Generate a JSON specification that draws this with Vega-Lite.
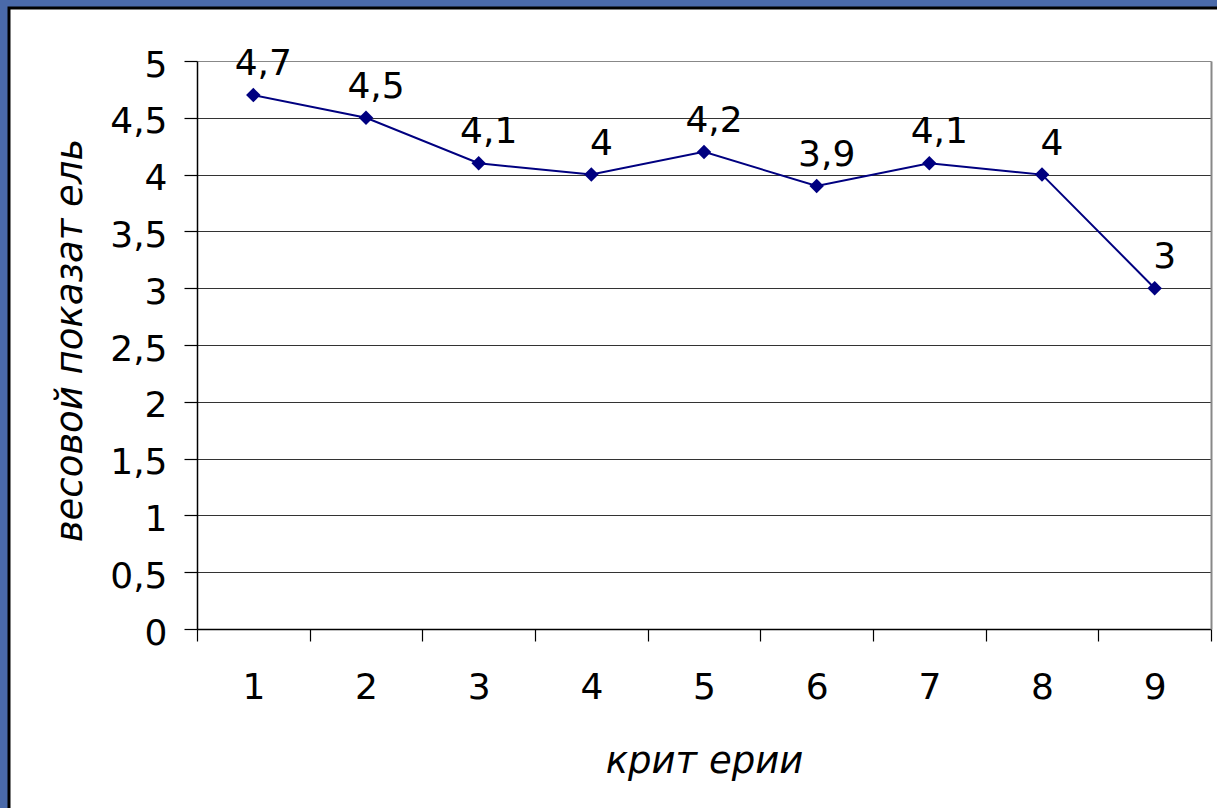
{
  "$schema": "https://vega.github.io/schema/vega-lite/v6.json",
  "width": 1214,
  "height": 806,
  "autosize": {"type": "none"},
  "padding": {"left": 9, "top": 8, "right": 0, "bottom": 0},
  "background": "#4a6aaa",
  "config": {
    "font": "DejaVu Sans",
    "view": {"fill": "#ffffff", "stroke": "#000000", "strokeWidth": 3},
    "locale": {"number": {"decimal": ",", "thousands": "\u00a0", "grouping": [3], "currency": ["", ""]}}
  },
  "data": {
    "values": [
      {"criterion": 1, "weight": 4.7},
      {"criterion": 2, "weight": 4.5},
      {"criterion": 3, "weight": 4.1},
      {"criterion": 4, "weight": 4.0},
      {"criterion": 5, "weight": 4.2},
      {"criterion": 6, "weight": 3.9},
      {"criterion": 7, "weight": 4.1},
      {"criterion": 8, "weight": 4.0},
      {"criterion": 9, "weight": 3.0}
    ]
  },
  "encoding": {
    "x": {
      "field": "criterion",
      "type": "ordinal",
      "scale": {"type": "band", "range": [188, 1202], "paddingInner": 0, "paddingOuter": 0},
      "axis": {
        "orient": "bottom",
        "offset": -185,
        "tickBand": "extent",
        "labelAngle": 0,
        "labelFont": "DejaVu Sans",
        "labelFontSize": 36,
        "labelColor": "#000000",
        "labelPadding": 29,
        "tickSize": 12,
        "tickColor": "#000000",
        "tickWidth": 1.2,
        "domainColor": "#000000",
        "domainWidth": 1.5,
        "grid": false,
        "title": "крит ерии",
        "titleFont": "DejaVu Sans",
        "titleFontStyle": "italic",
        "titleFontWeight": "normal",
        "titleFontSize": 37,
        "titleColor": "#000000",
        "titleBaseline": "alphabetic",
        "titleY": 143
      }
    },
    "y": {
      "field": "weight",
      "type": "quantitative",
      "scale": {"domain": [0, 5], "range": [621, 53], "nice": false},
      "axis": {
        "orient": "left",
        "offset": -188,
        "values": [0, 0.5, 1, 1.5, 2, 2.5, 3, 3.5, 4, 4.5, 5],
        "format": "~g",
        "labelFont": "DejaVu Sans",
        "labelFontSize": 36,
        "labelColor": "#000000",
        "labelPadding": 17,
        "labelOffset": 4,
        "tickSize": 13,
        "tickColor": "#000000",
        "tickWidth": 1.2,
        "domainColor": "#000000",
        "domainWidth": 1.5,
        "grid": true,
        "gridColor": {"condition": {"test": "datum.value === 5", "value": "#888888"}, "value": "#333333"},
        "gridWidth": 1.2,
        "title": "весовой показат ель",
        "titleFont": "DejaVu Sans",
        "titleFontStyle": "italic",
        "titleFontWeight": "normal",
        "titleFontSize": 37,
        "titleColor": "#000000",
        "titleBaseline": "alphabetic",
        "titleX": -116,
        "titleY": 332
      }
    }
  },
  "layer": [
    {
      "mark": {
        "type": "line",
        "color": "#000080",
        "strokeWidth": 2,
        "point": {"shape": "diamond", "size": 210, "filled": true, "color": "#000080", "opacity": 1}
      }
    },
    {
      "mark": {
        "type": "text",
        "font": "DejaVu Sans",
        "fontSize": 36,
        "color": "#000000",
        "baseline": "alphabetic",
        "align": "center",
        "dx": 10,
        "dy": -20
      },
      "encoding": {
        "text": {"field": "weight", "type": "quantitative", "format": "~g"},
        "y": {
          "field": "weight",
          "type": "quantitative",
          "axis": {
            "orient": "right",
            "offset": -12,
            "labels": false,
            "ticks": false,
            "grid": false,
            "domainColor": "#888888",
            "domainWidth": 2,
            "title": null
          }
        }
      }
    }
  ],
  "resolve": {"axis": {"y": "independent"}}
}
